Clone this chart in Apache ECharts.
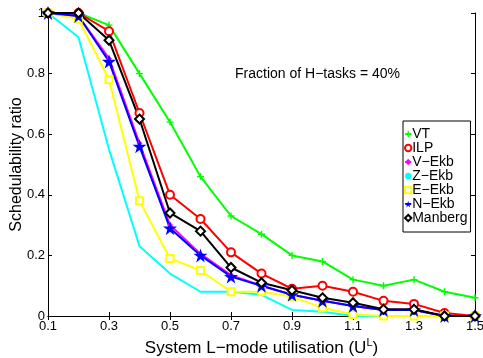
<!DOCTYPE html>
<html><head><meta charset="utf-8">
<script src="https://cdn.jsdelivr.net/npm/echarts@6/dist/echarts.min.js"></script>
<style>html,body{margin:0;padding:0;background:#fff}#c{width:483px;height:358px}</style>
</head><body><div id="c"></div>
<script>
const xValues = [0.1,0.2,0.3,0.4,0.5,0.6,0.7,0.8,0.9,1.0,1.1,1.2,1.3,1.4,1.5];
const xTicks = [0.1,0.3,0.5,0.7,0.9,1.1,1.3,1.5];
const yTicks = [0,0.2,0.4,0.6,0.8,1];
const VT      = [1,1,0.96,0.80,0.64,0.46,0.33,0.27,0.20,0.18,0.12,0.10,0.12,0.08,0.06];
const ILP     = [1,1,0.94,0.67,0.40,0.32,0.21,0.14,0.09,0.10,0.08,0.05,0.04,0.01,0];
const VEkb    = [1,0.99,0.85,0.57,0.30,0.205,0.135,0.10,0.07,0.05,0.033,0.02,0.02,0,0];
const ZEkb    = [1,0.92,0.55,0.23,0.14,0.08,0.08,0.07,0.02,0.014,0,0,0,0,0];
const EEkb    = [1,0.98,0.78,0.38,0.19,0.15,0.08,0.08,0.064,0.027,0.005,0,0,0,0];
const NEkb    = [1,0.99,0.84,0.56,0.29,0.20,0.13,0.10,0.07,0.05,0.033,0.02,0.02,0,0];
const Manberg = [1,1,0.91,0.65,0.34,0.28,0.16,0.11,0.085,0.06,0.044,0.022,0.022,0,0];

const plusPath = 'path://M4,0H6V4H10V6H6V10H4V6H0V4H4Z';
const starPath = 'path://M100,0 L122.45,69.1 L195.1,69.1 L136.3,111.8 L158.8,180.9 L100,138.2 L41.2,180.9 L63.7,111.8 L4.9,69.1 L77.55,69.1 Z';
const font = 'Liberation Sans';

function pairs(arr){ return xValues.map((x,i)=>[x,arr[i]]); }
function mk(name, data, color, symbol, size, itemStyle){
  return {name, type:'line', data:pairs(data), xAxisIndex:0, yAxisIndex:0,
    symbol, symbolSize:size, showSymbol: symbol!=='none',
    lineStyle:{color, width:2}, itemStyle: Object.assign({color}, itemStyle||{}),
    emphasis:{disabled:true}, animation:false, z: 2};
}
const series = [
  mk('VT', VT, '#00ff00', plusPath, 7),
  mk('ILP', ILP, '#ff0000', 'emptyCircle', 8, {borderWidth:2, color:'#ff0000'}),
  mk('V−Ekb', VEkb, '#ff00ff', 'diamond', 6),
  mk('Z−Ekb', ZEkb, '#00ffff', 'none', 0),
  mk('E−Ekb', EEkb, '#ffff00', 'emptyRect', 7, {borderWidth:2}),
  mk('N−Ekb', NEkb, '#0000ff', starPath, 14),
  mk('Manberg', Manberg, '#000000', 'emptyDiamond', 9, {borderWidth:2}),
];

const axisCommon = {
  axisLine:{show:true, lineStyle:{color:'#000', width:1}},
  axisTick:{show:true, inside:true, length:4, lineStyle:{color:'#000'}},
  splitLine:{show:false},
};
const option = {
  backgroundColor:'#fff',
  animation:false,
  textStyle:{fontFamily:font},
  grid:{left:48, right:8, top:13, bottom:42, containLabel:false, outerBoundsMode:'none'},
  xAxis:[
    Object.assign({type:'value', position:'bottom', min:0.1, max:1.5,
      axisLabel:{show:true, customValues:xTicks, formatter:v=>String(+v.toFixed(1)), color:'#000', fontSize:13, fontFamily:font, margin:4},
      name:'{n|System L−mode utilisation (U}{s|L}{n|)}', nameLocation:'middle', nameGap:21, nameMoveOverlap:false,
      nameTextStyle:{rich:{n:{fontSize:17, fontFamily:font, color:'#000', verticalAlign:'bottom'}, s:{fontSize:11, fontFamily:font, color:'#000', padding:[0,0,9,0], verticalAlign:'bottom'}}}
    }, axisCommon, {axisTick:Object.assign({}, axisCommon.axisTick, {customValues:xTicks})}),
    Object.assign({type:'value', position:'top', min:0.1, max:1.5, axisLabel:{show:false}}, axisCommon, {axisTick:Object.assign({}, axisCommon.axisTick, {customValues:xTicks})})
  ],
  yAxis:[
    Object.assign({type:'value', position:'left', min:0, max:1,
      axisLabel:{show:true, customValues:yTicks, formatter:v=>String(+v.toFixed(1)), color:'#000', fontSize:13, fontFamily:font, margin:3},
      name:'Schedulability ratio', nameLocation:'middle', nameGap:23, nameMoveOverlap:false,
      nameTextStyle:{fontSize:16, fontFamily:font, color:'#000'}
    }, axisCommon, {axisTick:Object.assign({}, axisCommon.axisTick, {customValues:yTicks})}),
    Object.assign({type:'value', position:'right', min:0, max:1, axisLabel:{show:false}}, axisCommon, {axisTick:Object.assign({}, axisCommon.axisTick, {customValues:yTicks})})
  ],
  legend:{
    left:403, top:121, orient:'vertical', itemGap:0, itemWidth:6, itemHeight:8,
    padding:[6,3,7,1], backgroundColor:'#fff', borderColor:'#000', borderWidth:1,
    textStyle:{fontSize:14, lineHeight:13, fontFamily:font, color:'#000', padding:[0,0,0,-4]},
    data:['VT','ILP','V−Ekb','Z−Ekb','E−Ekb','N−Ekb','Manberg']
  },
  graphic:[{type:'text', left:235, top:67, style:{text:'Fraction of H−tasks = 40%', fontSize:14, fontFamily:font, fill:'#000'}}],
  series
};
const chart = echarts.init(document.getElementById('c'), null, {renderer:'canvas'});
chart.setOption(option);
</script></body></html>
